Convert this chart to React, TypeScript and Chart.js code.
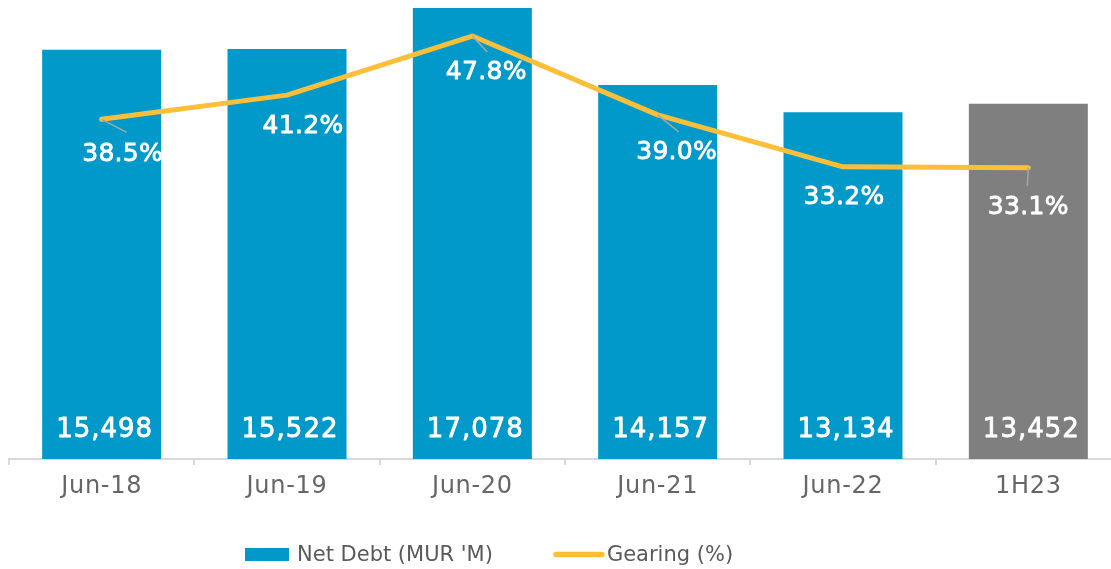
import React, { useEffect, useRef } from 'react';
import { Chart, registerables } from 'chart.js';

Chart.register(...registerables);

const categories = ['Jun-18', 'Jun-19', 'Jun-20', 'Jun-21', 'Jun-22', '1H23'];
const netDebt = [15498, 15522, 17078, 14157, 13134, 13452];
const gearing = [38.5, 41.2, 47.8, 39.0, 33.2, 33.1];
const barColors = ['#0099C9', '#0099C9', '#0099C9', '#0099C9', '#0099C9', '#7F7F7F'];
const seriesNames = ["Net Debt (MUR 'M)", 'Gearing (%)'];

// label placement (style): offset of each % label from its point, and leader line ends
const pctLabelOffsets = [[21, 42], [16, 38], [14, 43], [19, 44], [1, 37], [0, 46]];
const leaderEnds: (number[] | null)[] = [[25, 13], null, [15, 16], [21, 17], null, [-1, 18]];

const FONT = '"DejaVu Sans", "Liberation Sans", sans-serif';
const BLUE = '#0099C9';
const YELLOW = '#FDBF3A';
const TEXT_GREY = '#595959';

function strongText(ctx: CanvasRenderingContext2D, t: string, x: number, y: number) {
  ctx.fillText(t, x, y);
  ctx.strokeText(t, x, y);
}

const labelPlugin = {
  id: 'customLabels',
  beforeDraw(chart: any) {
    (chart.ctx as any).letterSpacing = '0.7px';
  },
  afterDatasetsDraw(chart: any) {
    const ctx = chart.ctx;
    const lineMeta = chart.getDatasetMeta(0);
    const barMeta = chart.getDatasetMeta(1);
    ctx.save();
    (ctx as any).letterSpacing = '0px';
    // leader lines
    ctx.strokeStyle = '#A6A6A6';
    ctx.lineWidth = 1.5;
    lineMeta.data.forEach((pt: any, i: number) => {
      const e = leaderEnds[i];
      if (!e) return;
      ctx.beginPath();
      ctx.moveTo(pt.x, pt.y);
      ctx.lineTo(pt.x + e[0], pt.y + e[1]);
      ctx.stroke();
    });
    // bar value labels
    ctx.fillStyle = '#FFFFFF';
    ctx.strokeStyle = '#FFFFFF';
    ctx.lineWidth = 0.8;
    ctx.lineJoin = 'round';
    ctx.textAlign = 'center';
    ctx.textBaseline = 'alphabetic';
    ctx.font = `26px ${FONT}`;
    (ctx as any).letterSpacing = '1px';
    barMeta.data.forEach((bar: any, i: number) => {
      strongText(ctx, netDebt[i].toLocaleString('en-US'), bar.x + 3, bar.base - 22);
    });
    // gearing labels
    ctx.font = `25px ${FONT}`;
    (ctx as any).letterSpacing = '0.3px';
    lineMeta.data.forEach((pt: any, i: number) => {
      const o = pctLabelOffsets[i];
      strongText(ctx, gearing[i].toFixed(1) + '%', pt.x + o[0], pt.y + o[1]);
    });
    ctx.restore();
  },
  afterDraw(chart: any) {
    const ctx = chart.ctx;
    ctx.save();
    (ctx as any).letterSpacing = '0px';
    ctx.font = `21px ${FONT}`;
    ctx.fillStyle = TEXT_GREY;
    ctx.textAlign = 'left';
    ctx.textBaseline = 'alphabetic';
    let x = 245;
    const cy = 554.5;
    ctx.fillStyle = BLUE;
    ctx.fillRect(x, cy - 6.5, 44, 13);
    x += 44 + 8;
    ctx.fillStyle = TEXT_GREY;
    ctx.fillText(seriesNames[0], x, 561);
    x += ctx.measureText(seriesNames[0]).width + 61;
    ctx.strokeStyle = YELLOW;
    ctx.lineWidth = 5.5;
    ctx.lineCap = 'round';
    ctx.beginPath();
    ctx.moveTo(x + 2, cy);
    ctx.lineTo(x + 48, cy);
    ctx.stroke();
    x += 50 + 3;
    ctx.fillText(seriesNames[1], x, 561);
    ctx.restore();
  },
};

export default function App() {
  const ref = useRef<HTMLCanvasElement | null>(null);
  useEffect(() => {
    document.body.style.margin = '0';
    document.body.style.overflow = 'hidden';
    document.documentElement.style.overflow = 'hidden';
    if (!ref.current) return;
    const chart = new Chart(ref.current, {
      type: 'bar',
      data: {
        labels: categories,
        datasets: [
          {
            type: 'line',
            label: seriesNames[1],
            data: gearing,
            yAxisID: 'y1',
            order: 0,
            borderColor: YELLOW,
            borderWidth: 5,
            pointRadius: 0,
            tension: 0,
            borderCapStyle: 'round',
            borderJoinStyle: 'round',
          } as any,
          {
            type: 'bar',
            label: seriesNames[0],
            data: netDebt,
            yAxisID: 'y',
            order: 1,
            backgroundColor: barColors,
            barPercentage: 0.642,
            categoryPercentage: 1,
          } as any,
        ],
      },
      options: {
        animation: false,
        responsive: true,
        maintainAspectRatio: false,
        layout: { padding: { left: 9, right: 1, top: 0, bottom: 0 } },
        plugins: { legend: { display: false }, tooltip: { enabled: false } },
        scales: {
          x: {
            offset: true,
            grid: {
              display: true,
              drawOnChartArea: false,
              drawTicks: true,
              tickLength: 6,
              color: '#D9D9D9',
              lineWidth: 2,
              offset: true,
            },
            border: { display: true, color: '#D9D9D9', width: 2 },
            ticks: {
              color: '#666666',
              font: { family: FONT, size: 24 },
              padding: 7,
              maxRotation: 0,
              autoSkip: false,
            },
            afterFit: (s: any) => {
              s.height = 110;
            },
          },
          y: { display: false, min: 0, max: 17380 },
          y1: { display: false, min: 0.58, max: 51.82 },
        },
      },
      plugins: [labelPlugin],
    });
    return () => chart.destroy();
  }, []);
  return (
    <div style={{ width: '1122px', height: '569px', position: 'relative' }}>
      <canvas ref={ref} />
    </div>
  );
}
